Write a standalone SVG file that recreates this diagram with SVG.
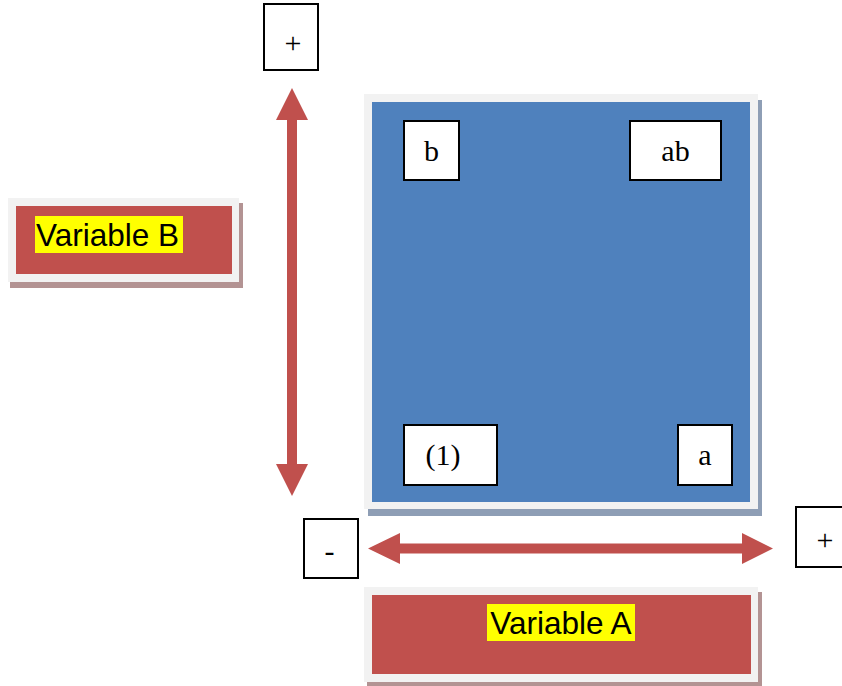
<svg xmlns="http://www.w3.org/2000/svg" width="842" height="686" viewBox="0 0 842 686">
<style>
.frame{fill:#F2F2F2}
.blue{fill:#4F81BD}
.red{fill:#C0504D}
.bshadow{fill:#8E9EB5}
.rshadow{fill:#B39393}
.box{fill:#FFFFFF;stroke:#000000;stroke-width:2}
.lbl{font-family:"Liberation Serif","Times New Roman",serif;font-size:30px;fill:#000;text-anchor:middle}
.sign{font-family:"Liberation Serif","Times New Roman",serif;font-size:30px;fill:#000;text-anchor:middle}
.var{font-family:"Liberation Sans",Arial,sans-serif;font-size:31.5px;fill:#000}
.hl{fill:#FFFF00}
.arrow{fill:#C0504D}
</style>
<rect width="842" height="686" fill="#FFFFFF"/>
<g id="square">
<rect class="bshadow" x="368" y="100" width="394" height="416"/>
<rect class="frame" x="364" y="94" width="394" height="415"/>
<rect class="blue" x="372" y="102" width="378" height="400"/>
</g>
<g id="node-b">
<rect class="box" x="404" y="121" width="55" height="59"/>
<text class="lbl" x="431.5" y="161">b</text>
</g>
<g id="node-ab">
<rect class="box" x="630" y="121" width="91" height="59"/>
<text class="lbl" x="675.5" y="161">ab</text>
</g>
<g id="node-1">
<rect class="box" x="404" y="425" width="93" height="60"/>
<text class="lbl" x="443" y="465">(1)</text>
</g>
<g id="node-a">
<rect class="box" x="678" y="425" width="54" height="60"/>
<text class="lbl" x="705" y="465">a</text>
</g>
<g id="plus-top">
<rect class="box" x="264" y="4" width="54" height="66"/>
<text class="sign" x="293" y="53">+</text>
</g>
<g id="minus">
<rect class="box" x="304" y="519" width="54" height="59"/>
<text class="sign" x="329.5" y="561">-</text>
</g>
<g id="plus-right">
<rect class="box" x="796" y="507" width="60" height="60"/>
<text class="sign" x="825" y="550">+</text>
</g>
<g id="variable-b">
<rect class="rshadow" x="10" y="203" width="233" height="85"/>
<rect class="frame" x="8" y="198" width="231" height="84"/>
<rect class="red" x="16" y="206" width="216" height="68"/>
<rect class="hl" x="35" y="216" width="148" height="37"/>
<text class="var" x="36" y="246">Variable B</text>
</g>
<g id="variable-a">
<rect class="rshadow" x="367" y="592" width="395" height="94"/>
<rect class="frame" x="364" y="587" width="394" height="95"/>
<rect class="red" x="372" y="595" width="379" height="79"/>
<rect class="hl" x="487" y="604" width="148" height="37"/>
<text class="var" x="561" y="634" text-anchor="middle">Variable A</text>
</g>
<g id="connectors">
<path class="arrow" d="M292,88 L308,120 L297,120 L297,464 L308,464 L292,496 L276,464 L287,464 L287,120 L276,120 Z"/>
<path class="arrow" d="M368,548.5 L400,533 L400,543.5 L742,543.5 L742,533 L773,548.5 L742,564 L742,553.5 L400,553.5 L400,564 Z"/>
</g>
</svg>
